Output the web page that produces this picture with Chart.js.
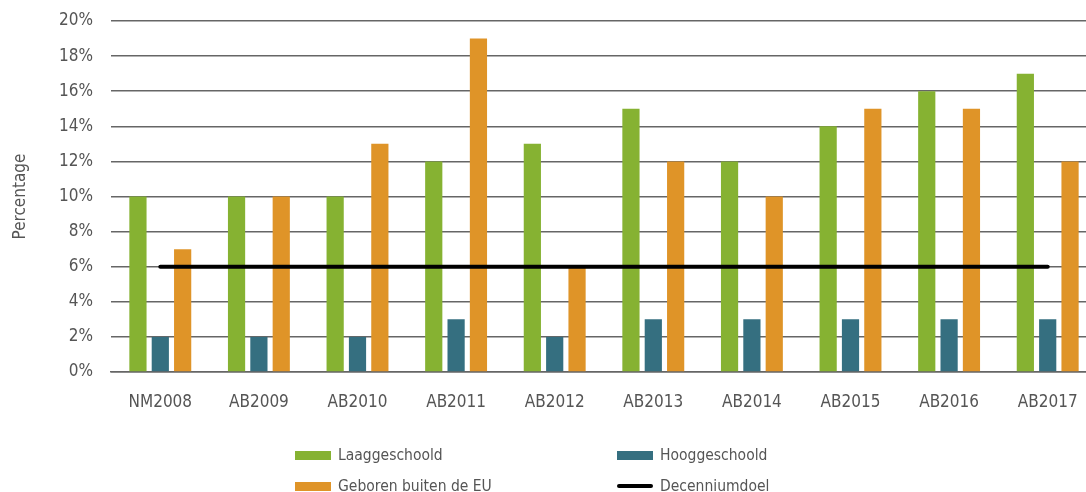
<!DOCTYPE html>
<html>
<head>
<meta charset="utf-8">
<script src="https://cdn.jsdelivr.net/npm/chart.js@4/dist/chart.umd.min.js"></script>
<style>
  html, body { margin: 0; padding: 0; background: #fff; overflow: hidden; }
  #wrap { position: relative; width: 1086px; height: 492px; overflow: hidden; }
  #legend {
    position: absolute; left: 295px; top: 445px;
    display: grid; grid-template-columns: 322px 200px; row-gap: 11px;
    font-family: 'Liberation Sans Narrow', 'DejaVu Sans Condensed', sans-serif;
    font-size: 15.5px; color: #555;
  }
  .item { display: flex; align-items: center; height: 20px; }
  .swatch { width: 36px; height: 9px; margin-right: 7px; }
  .swatch.line { height: 4px; border-radius: 2px; }
</style>
</head>
<body>
<div id="wrap">
  <!-- plot runs a little past the right edge, as in the original -->
  <canvas id="chart" width="1097" height="492"></canvas>
  <div id="legend"></div>
</div>
<script>
const categories = ['NM2008', 'AB2009', 'AB2010', 'AB2011', 'AB2012', 'AB2013', 'AB2014', 'AB2015', 'AB2016', 'AB2017'];
const laaggeschoold = [10, 10, 10, 12, 13, 15, 12, 14, 16, 17];
const hooggeschoold = [2, 2, 2, 3, 2, 3, 3, 3, 3, 3];
const geborenBuitenEU = [7, 10, 13, 19, 6, 12, 10, 15, 15, 12];
const decenniumdoel = [6, 6, 6, 6, 6, 6, 6, 6, 6, 6];

const fontFamily = "'Liberation Sans Narrow', 'DejaVu Sans Condensed', sans-serif";

const bar = { categoryPercentage: 0.68, barPercentage: 0.77, order: 1 };

const chart = new Chart(document.getElementById('chart'), {
  type: 'bar',
  data: {
    labels: categories,
    datasets: [
      { label: 'Laaggeschoold', data: laaggeschoold, backgroundColor: '#86b232', ...bar },
      { label: 'Hooggeschoold', data: hooggeschoold, backgroundColor: '#356f80', ...bar },
      { label: 'Geboren buiten de EU', data: geborenBuitenEU, backgroundColor: '#df9428', ...bar },
      {
        label: 'Decenniumdoel', data: decenniumdoel, type: 'line',
        borderColor: '#000', borderWidth: 4, pointRadius: 0,
        borderCapStyle: 'round', order: 0
      }
    ]
  },
  options: {
    responsive: false,
    animation: false,
    layout: { padding: { top: 21, left: 0, right: 0, bottom: 80 } },
    plugins: { legend: { display: false }, tooltip: { enabled: false } },
    scales: {
      x: {
        grid: { display: false },
        border: { color: '#666', width: 1.5 },
        ticks: { color: '#555', padding: 12, font: { family: fontFamily, size: 17 } },
        afterFit: s => { s.height = 40; s.paddingLeft = 0; s.paddingRight = 0; }
      },
      y: {
        min: 0, max: 20,
        grid: { color: '#666', lineWidth: 1.5, drawTicks: false },
        border: { display: false },
        ticks: {
          stepSize: 2, color: '#555', padding: 18,
          font: { family: fontFamily, size: 17 },
          callback: v => v + '%'
        },
        title: {
          display: true, text: 'Percentage', color: '#555',
          font: { family: fontFamily, size: 17 }, padding: { top: 10 }
        },
        afterFit: s => { s.width = 111; s.paddingTop = 0; s.paddingBottom = 0; }
      }
    }
  }
});

// two-column legend like the original
const legend = document.getElementById('legend');
chart.data.datasets.forEach(ds => {
  const item = document.createElement('div');
  item.className = 'item';
  const sw = document.createElement('span');
  sw.className = 'swatch' + (ds.type === 'line' ? ' line' : '');
  sw.style.background = ds.type === 'line' ? ds.borderColor : ds.backgroundColor;
  item.appendChild(sw);
  item.appendChild(document.createTextNode(ds.label));
  legend.appendChild(item);
});
</script>
</body>
</html>
